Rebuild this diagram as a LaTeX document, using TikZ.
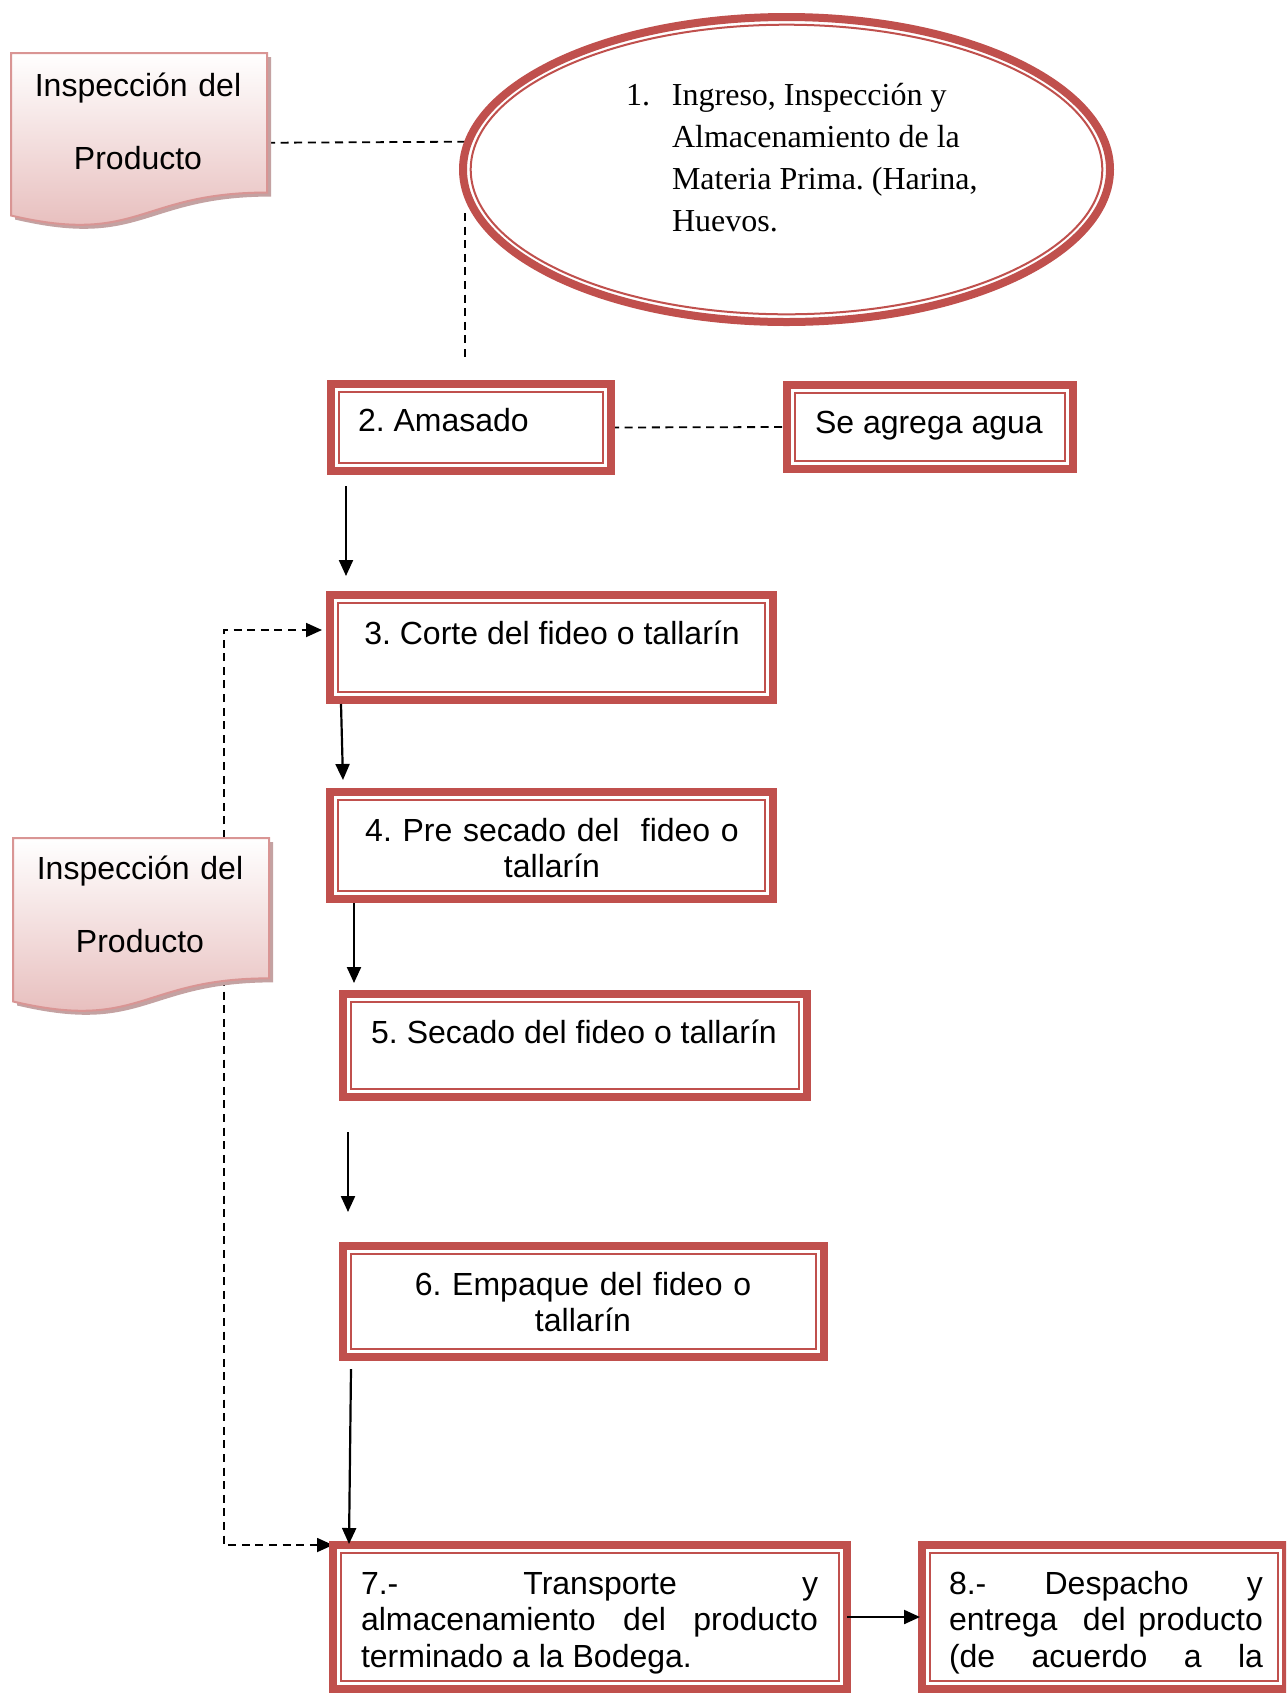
\documentclass[tikz,border=0pt]{standalone}
\usepackage{fontspec}
\setmainfont{Liberation Sans}
\newfontfamily\serifrm{Liberation Serif}
\usetikzlibrary{shapes.geometric,arrows.meta}
\pgfdeclarelayer{paper}
\pgfdeclarelayer{links}
\pgfsetlayers{paper,links,main}

\definecolor{boxred}{RGB}{192,80,77}
\definecolor{docborder}{RGB}{217,149,148}
\definecolor{docpink}{RGB}{229,184,183}
\definecolor{docshadow}{RGB}{196,162,162}

% flowchart "document" shape: left, top, right, height
\newcommand{\docshape}[4]{%
  \fill[docshadow, shift={(4,4)}] (#1,#2) -- (#3,#2) -- (#3,{#2+0.802*#4})
    .. controls ({(#1+#3)/2},{#2+0.802*#4}) and ({(#1+#3)/2},{#2+1.1075*#4}) .. (#1,{#2+0.934*#4}) -- cycle;
  \draw[docborder, line width=1pt, top color=white, bottom color=docpink] (#1,#2) -- (#3,#2) -- (#3,{#2+0.802*#4})
    .. controls ({(#1+#3)/2},{#2+0.802*#4}) and ({(#1+#3)/2},{#2+1.1075*#4}) .. (#1,{#2+0.934*#4}) -- cycle;
}

\begin{document}
\frenchspacing
\begin{tikzpicture}[x=0.5pt, y=-0.5pt,
  every node/.style={inner sep=0pt, outer sep=0pt},
  stepbox/.style={rectangle, draw=boxred, line width=4pt, fill=white},
  innerline/.style={draw=boxred, line width=1pt},
  label16/.style={font=\fontsize{16}{18.4}\selectfont},
  justbox/.style={label16, anchor=base west, align=justify},
  doclabel/.style={font=\fontsize{16}{36.5}\selectfont, text width=128pt, align=center, anchor=base},
  docarea/.style={rectangle, minimum width=128pt},
  flow/.style={line width=1.1pt, -{Triangle[length=8pt,width=7pt]}},
  dashlink/.style={line width=0.9pt, dash pattern=on 4pt off 2.8pt},
  dasharrow/.style={dashlink, -{Triangle[length=8pt,width=7pt]}}]

\begin{pgfonlayer}{paper}
  \fill[white] (0,0) rectangle (1286,1693);
\end{pgfonlayer}
\path[use as bounding box] (0,0) rectangle (1286,1693);
\clip (0,0) rectangle (1286,1693);

% raw material intake
\node[ellipse, draw=boxred, line width=4pt, fill=white,
      minimum width=323.5pt, minimum height=152.5pt] (e1) at (786.5,169.5) {};
\draw[innerline] (e1.center) ellipse [x radius=157.9pt, y radius=72.4pt];
\node[anchor=base west, font=\serifrm\fontsize{16}{21}\selectfont] (e1t) at (626,105)
  {\begin{tabular}[t]{@{}p{23pt}@{}l@{}}
   1. & Ingreso, Inspección y\\
      & Almacenamiento de la\\
      & Materia Prima. (Harina,\\
      & Huevos.
   \end{tabular}};

% process steps
\node[stepbox, minimum width=140pt,   minimum height=43.5pt] (b2)    at (471,427.5)  {};
\node[stepbox, minimum width=143pt,   minimum height=42pt]   (bagua) at (930,427)    {};
\node[stepbox, minimum width=221.5pt, minimum height=52.5pt] (b3)    at (551.5,647.5) {};
\node[stepbox, minimum width=221.5pt, minimum height=53.5pt] (b4)    at (551.5,845.5) {};
\node[stepbox, minimum width=232pt,   minimum height=51.5pt] (b5)    at (575,1045.5) {};
\node[stepbox, minimum width=240.5pt, minimum height=55.5pt] (b6)    at (583.5,1301.5) {};
\node[stepbox, minimum width=257pt,   minimum height=72pt]   (b7)    at (590,1617)   {};
\node[stepbox, minimum width=182pt,   minimum height=72pt]   (b8)    at (1104,1617)  {};

\foreach \bx in {b2,bagua,b3,b4,b5,b6,b7,b8}
  \draw[innerline] ([xshift=3.85pt,yshift=-3.85pt]\bx.north west) rectangle ([xshift=-3.85pt,yshift=3.85pt]\bx.south east);

\node[label16, anchor=base west] (b2t) at (358,431) {2. Amasado};
\node[label16, anchor=base west] (baguat) at (815,433) {Se agrega agua};
\node[label16, anchor=base] (b3t) at (552,644) {3. Corte del fideo o tallarín};
\node[label16, anchor=base, text width=215pt, align=center] (b4t) at (552,841) {4. Pre secado del\ \ fideo o\\tallarín};
\node[label16, anchor=base] (b5t) at (574,1043) {5. Secado del fideo o tallarín};
\node[label16, anchor=base, text width=235pt, align=center] (b6t) at (583,1295) {6. Empaque del fideo o\\tallarín};
\node[justbox, text width=228.5pt] (b7t) at (361,1594)
  {\hyphenpenalty=10000 \tolerance=10000 7.- Transporte y\linebreak almacenamiento del producto\linebreak terminado a la Bodega.};
\node[justbox, text width=157pt] (b8t) at (949,1594)
  {\hyphenpenalty=10000 \tolerance=10000 8.- Despacho y\linebreak entrega\ \ del producto\linebreak (de\hfill acuerdo\hfill a\hfill la};

% main flow
\draw[flow] ([xshift=7.5pt,yshift=-7.5pt]b2.south west) -- ([xshift=8pt,yshift=9.5pt]b3.north west);
\draw[flow] ([xshift=5.5pt,yshift=-2pt]b3.south west) -- ([xshift=6.5pt,yshift=6pt]b4.north west);
\draw[flow] ([xshift=12pt,yshift=-2pt]b4.south west) -- ([xshift=12pt,yshift=5.5pt]b4.south west |- b5.north west);
\draw[flow] ([xshift=2.5pt,yshift=-17.5pt]b5.south west) -- ([xshift=2.5pt,yshift=17pt]b6.north west);
\draw[flow] ([xshift=4pt,yshift=-6pt]b6.south west) -- ([xshift=8pt,yshift=0.5pt]b7.north west);
\draw[flow, shorten >=1pt] (b7.east) -- (b8.west);

% inspection documents
\docshape{11}{53}{267}{174}
\docshape{13}{838}{269}{175}
\node[docarea, minimum height=69.75pt] (d1) at (139,122.75) {};
\node[docarea, minimum height=70pt] (d2) at (141,908) {};
\node[doclabel] (d1t) at (138,96) {Inspección del\\Producto};
\node[doclabel] (d2t) at (140,879) {Inspección del\\Producto};

\coordinate (c1) at (465,358);

\begin{pgfonlayer}{links}
  \draw[dashlink] ([yshift=-10pt]d1.east) -- (e1.175);
  \draw[dashlink] (e1.188 -| c1) -- (c1);
  \draw[dashlink] (b2.east) -- (bagua.west);
  \draw[dasharrow, shorten >=4pt] ([xshift=41.5pt]d2.north) |- ([yshift=8.75pt]b3.west);
  \draw[dasharrow] ([xshift=41.5pt]d2.south) |- (b7.north west);
\end{pgfonlayer}
\end{tikzpicture}
\end{document}
